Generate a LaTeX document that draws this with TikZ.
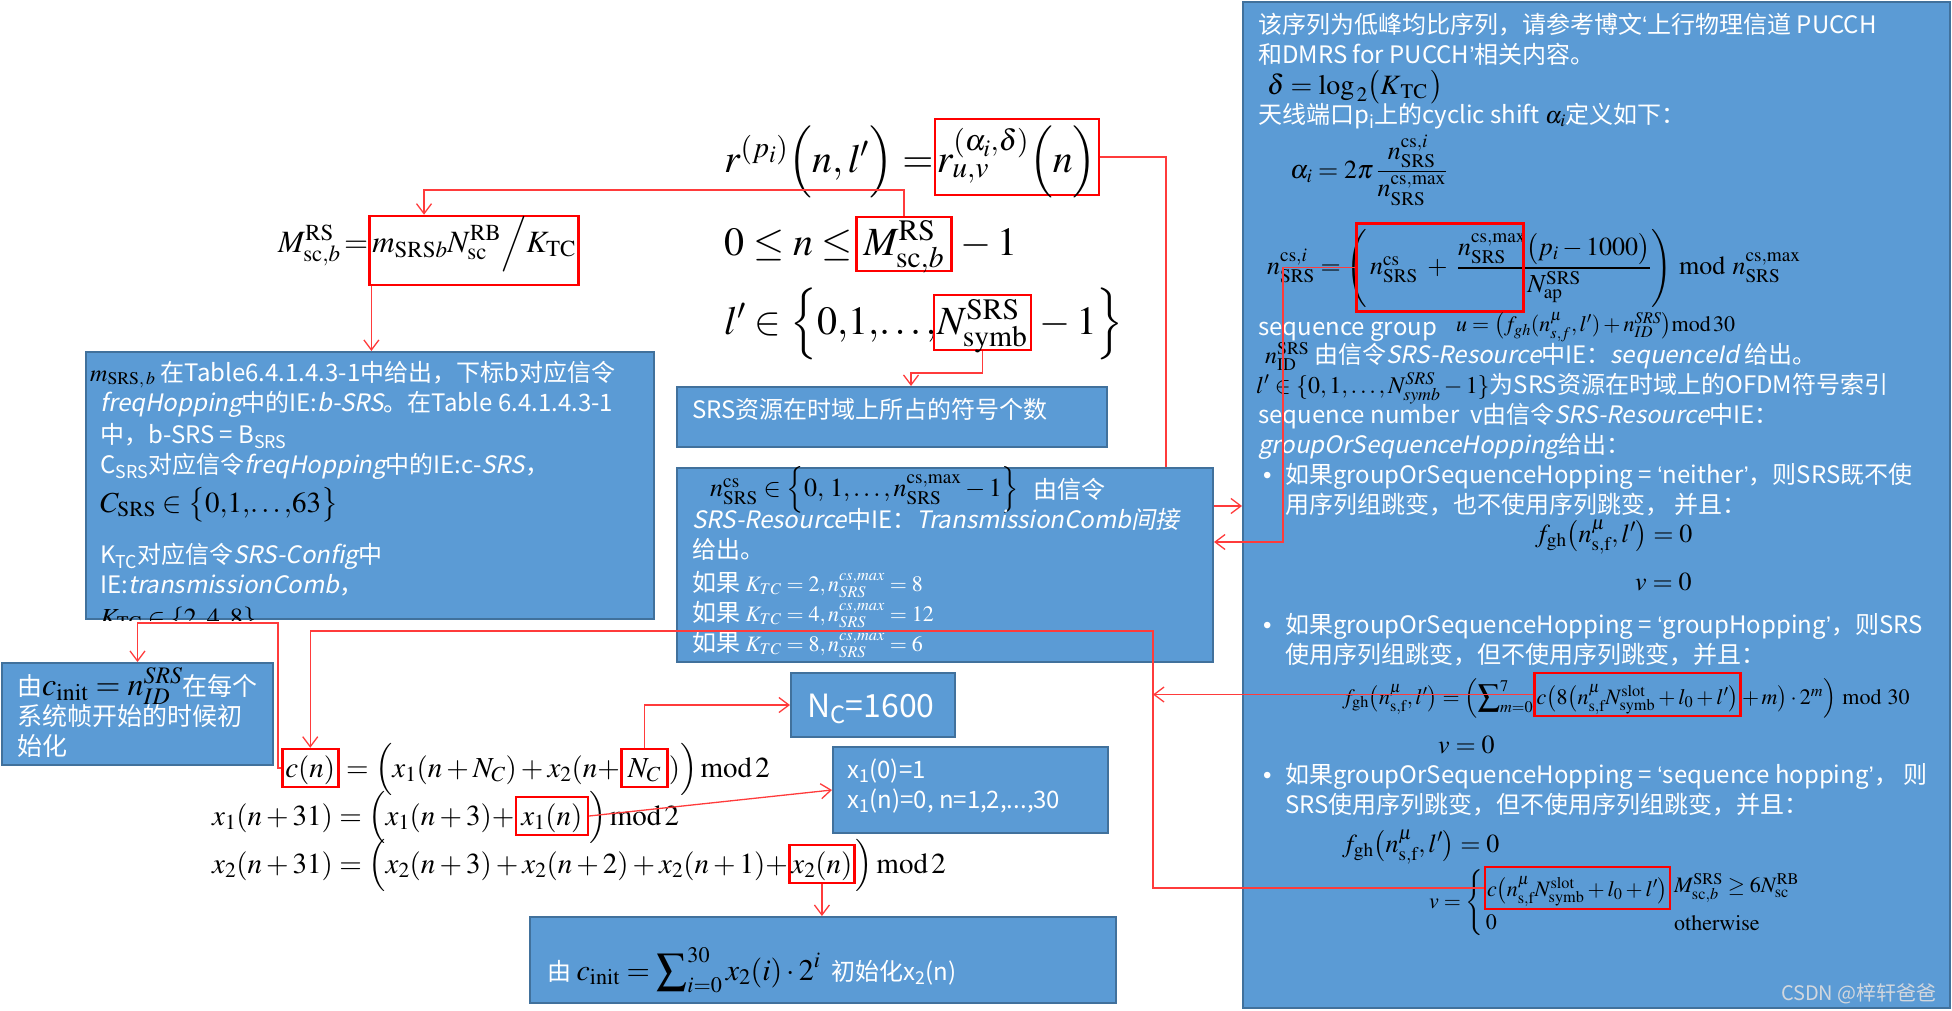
\documentclass[tikz,border=0pt]{standalone}
\usepackage{amsmath}
\usepackage{mathptmx}
\usepackage[no-math]{fontspec}
\setmainfont{Noto Sans CJK SC}[AutoFakeSlant=0.2]
\newfontfamily\latinfont{Liberation Sans}
\usetikzlibrary{arrows.meta,positioning}
\definecolor{boxfill}{HTML}{5B9BD5}
\definecolor{boxedge}{HTML}{41719C}
\definecolor{linkred}{HTML}{FF3B3B}
\definecolor{markgray}{HTML}{D2D7DE}

\newcommand{\blk}[1]{\textcolor{black}{$#1$}}
\newcommand{\oq}{{\latinfont ‘}}
\newcommand{\cq}{{\latinfont ’}}
\newcommand{\dotitem}{{\latinfont •}}

\begin{document}
\begin{tikzpicture}[x=1pt,y=-1pt,
  bluebox/.style={draw=boxedge,fill=boxfill,line width=2pt,anchor=north west,inner sep=0pt},
  txt/.style={anchor=base west,inner sep=0pt,text=white,font=\fontsize{24}{30}\selectfont},
  eq/.style={anchor=base west,inner sep=0pt},
  eqxl/.style={eq,font=\fontsize{40}{48}\selectfont},
  eqlg/.style={eq,font=\fontsize{31}{37}\selectfont},
  eqmd/.style={eq,font=\fontsize{29}{35}\selectfont},
  eqsm/.style={eq,font=\fontsize{26}{30}\selectfont},
  eqxs/.style={eq,font=\fontsize{22}{26}\selectfont},
  redbox/.style={draw=red,line width=2.5pt,inner sep=2pt},
  link/.style={draw=linkred,line width=1.3pt,-{Straight Barb[length=10pt,width=15pt]}}]
\useasboundingbox (0,0) rectangle (1952,1010);

% boxes
\node[bluebox,minimum width=707pt,minimum height=1006pt] (bigbox) at (1242,1) {};
\node[bluebox,minimum width=568pt,minimum height=267pt] (leftbox) at (85,351) {};
\node[bluebox,minimum width=430pt,minimum height=60pt] (srsbox) at (676,386) {};
\node[bluebox,minimum width=271pt,minimum height=102pt] (cibox) at (1,662) {};
\node[bluebox,minimum width=164pt,minimum height=64pt] (ncbox) at (790,672) {};
\node[bluebox,minimum width=275pt,minimum height=86pt] (x1box) at (832,746) {};
\node[bluebox,minimum width=586pt,minimum height=86pt] (botbox) at (529,916) {};

% left box
\node[txt] (lb1) at (90,381) {\blk{m_{\mathrm{SRS},\,b}} 在Table6.4.1.4.3-1中给出，下标b对应信令};
\node[txt] (lb2) at (100,411) {\textit{freqHopping}中的IE:\textit{b-SRS}。在Table 6.4.1.4.3-1};
\node[txt] (lb3) at (100,443) {中，b-SRS = B\textsubscript{SRS}};
\node[txt] (lb4) at (100,473) {C\textsubscript{SRS}对应信令\textit{freqHopping}中的IE:c-\textit{SRS}，};
\node[eqmd,anchor=west] (lb5) at (100,505) {$C_{\mathrm{SRS}}\in\bigl\{0,\!1,\!\ldots,\!63\bigr\}$};
\node[txt] (lb6) at (100,563) {K\textsubscript{TC}对应信令\textit{SRS-Config}中};
\node[txt] (lb7) at (100,593) {IE:\textit{transmissionComb}，};
\begin{scope}
  \clip (leftbox.north west) rectangle (leftbox.south east);
  \node[eqsm] (lb8) at (100,626) {$K_{\mathrm{TC}}\in\{2,4,8\}$};
\end{scope}

% big box
\node[txt] (b1) at (1258,33) {该序列为低峰均比序列，请参考博文\oq 上行物理信道 PUCCH};
\node[txt] (b2) at (1258,63) {和DMRS for PUCCH\cq 相关内容。};
\node[eq,anchor=west,font=\fontsize{28}{32}\selectfont] (b3) at (1267,87) {$\delta = \log_{\,2}\bigl(K_{\,\mathrm{TC}}\,\bigr)$};
\node[txt] (b4) at (1258,123) {天线端口p\textsubscript{i}上的cyclic shift \blk{\alpha_i}定义如下：};
\node[eqsm,anchor=west] (b5) at (1290,170) {$\alpha_i = 2\pi\,\dfrac{n_{\mathrm{SRS}}^{\mathrm{cs},i}}{n_{\mathrm{SRS}}^{\mathrm{cs,max}}}$};
\node[eqsm,anchor=west] (b6) at (1267,268) {$n_{\mathrm{SRS}}^{\mathrm{cs},i} = \left(\,n_{\mathrm{SRS}}^{\mathrm{cs}} \;+\; \dfrac{n_{\mathrm{SRS}}^{\mathrm{cs,max}}\bigl(p_i-1000\bigr)}{N_{\mathrm{ap}}^{\mathrm{SRS}}}\right)\bmod n_{\mathrm{SRS}}^{\mathrm{cs,max}}$};
\node[redbox,minimum width=167pt,minimum height=88pt,anchor=north west] (ncsred) at (1355,222) {};
\node[txt] (b7) at (1258,335) {sequence group};
\node[eqxs,anchor=west] (b7u) at (1456,327) {$u=\bigl(f_{gh}(n_{s,f}^{\mu},l')+n_{ID}^{SRS}\bigr)\mathrm{mod}\,30$};
\node[txt] (b8) at (1265,363) {\blk{n_{\mathrm{ID}}^{\mathrm{SRS}}} 由信令\textit{SRS-Resource}中IE：\textit{sequenceId} 给出。};
\node[txt] (b9) at (1256,393) {\blk{l'\in\{0,1,\ldots,N_{symb}^{SRS}-1\}}为SRS资源在时域上的OFDM符号索引};
\node[txt] (b10) at (1258,423) {sequence number\ \ v由信令\textit{SRS-Resource}中IE：};
\node[txt] (b11) at (1258,453) {\textit{groupOrSequenceHopping}给出：};
\node[txt] (d1) at (1263,483) {\dotitem};
\node[txt] (b12) at (1285,483) {如果groupOrSequenceHopping = \oq neither\cq ，则SRS既不使};
\node[txt] (b13) at (1285,513) {用序列组跳变，也不使用序列跳变， 并且：};
\node[eqsm,anchor=west] (b14) at (1535,537) {$f_{\mathrm{gh}}\bigl(n_{\mathrm{s,f}}^{\mu},l'\bigr)=0$};
\node[eqsm,anchor=west] (b15) at (1635,582) {$v=0$};
\node[txt] (d2) at (1263,633) {\dotitem};
\node[txt] (b16) at (1285,633) {如果groupOrSequenceHopping = \oq groupHopping\cq ，则SRS};
\node[txt] (b17) at (1285,663) {使用序列组跳变，但不使用序列跳变，并且：};
\node[eqxs] (b18) at (1342,704) {$f_{\mathrm{gh}}\bigl(n_{\mathrm{s,f}}^{\mu},l'\bigr)=\Bigl(\displaystyle\sum\nolimits_{m=0}^{7}$};
\node[eqxs,redbox,base right=0pt of b18,text height=29pt,text depth=10pt] (fred) {$c\bigl(8\bigl(n_{\mathrm{s,f}}^{\mu}N_{\mathrm{symb}}^{\mathrm{slot}}+l_0+l'\bigr)$};
\node[eqxs,base right=0pt of fred] (b18b) {$+\,m\bigr)\cdot 2^{m}\Bigr)\bmod 30$};
\node[eqsm,anchor=west] (b19) at (1438,745) {$v=0$};
\node[txt] (d3) at (1263,783) {\dotitem};
\node[txt] (b20) at (1285,783) {如果groupOrSequenceHopping = \oq sequence hopping\cq ， 则};
\node[txt] (b21) at (1285,813) {SRS使用序列跳变，但不使用序列组跳变，并且：};
\node[eqsm,anchor=west] (b22) at (1342,847) {$f_{\mathrm{gh}}\bigl(n_{\mathrm{s,f}}^{\mu},l'\bigr)=0$};
\node[eqxs,anchor=west] (b23) at (1429,903) {$v=\Bigg\{$};
\node[eqxs,redbox,anchor=west,text height=27pt,text depth=11pt] (vred) at ([yshift=15pt]b23.east) {$c\bigl(n_{\mathrm{s,f}}^{\mu}N_{\mathrm{symb}}^{\mathrm{slot}}+l_0+l'\bigr)$};
\node[eqxs,anchor=west] (b23b) at ([yshift=-19pt,xshift=2pt]b23.east) {$0$};
\node[eqxs,anchor=west] (b23c) at (1674,888) {$M_{\mathrm{sc},b}^{\mathrm{SRS}}\ge 6N_{\mathrm{sc}}^{\mathrm{RB}}$};
\node[eqxs,anchor=west] (b23d) at (1674,923) {$\mathrm{otherwise}$};
\node[anchor=base east,inner sep=0pt,text=markgray,font=\fontsize{20}{24}\selectfont] (wm) at (1937,1000) {CSDN @梓轩爸爸};

% small boxes
\node[txt] (srst) at (692,418) {SRS资源在时域上所占的符号个数};
\node[txt,font=\fontsize{25}{30}\selectfont] (ci1) at (17,695) {由{\fontsize{32}{36}\selectfont\blk{c_{\mathrm{init}}=n_{ID}^{SRS}}}在每个};
\node[txt,font=\fontsize{25}{30}\selectfont] (ci2) at (17,725) {系统帧开始的时候初};
\node[txt,font=\fontsize{25}{30}\selectfont] (ci3) at (17,755) {始化};
\node[txt,font=\fontsize{32}{36}\selectfont] (nct) at (807,717) {N\textsubscript{C}=1600};
\node[txt] (x1t1) at (847,778) {x\textsubscript{1}(0)=1};
\node[txt] (x1t2) at (847,808) {x\textsubscript{1}(n)=0, n=1,2,...,30};
\node[txt] (bt1) at (547,980) {由 {\fontsize{30}{36}\selectfont\blk{c_{\mathrm{init}}=\displaystyle\sum\nolimits_{i=0}^{30}x_2(i)\cdot 2^{i}}}\ \ 初始化x\textsubscript{2}(n)};

% equations
\node[eqxl] (req) at (724,172) {$r^{(p_i)}\Bigl(n,l'\Bigr)=$};
\node[eqxl,redbox,base right=0pt of req,text height=51pt,text depth=21pt,minimum width=159pt] (rred) {$r_{u,v}^{(\alpha_i,\delta)}\Bigl(n\Bigr)$};
\node[eqxl] (neq) at (724,255) {$0\le n\le$};
\node[eqxl,redbox,base right=2pt of neq,text height=36pt,text depth=14pt,minimum width=95pt] (mred) {$M_{\mathrm{sc},b}^{\mathrm{RS}}$};
\node[eqxl,base right=2pt of mred] (neq2) {${}-1$};
\node[eqxl] (leq) at (724,334) {$l'\in\Bigl\{0,\!1,\!\ldots,\!$};
\node[eqxl,redbox,base right=0pt of leq,text height=37pt,text depth=14pt,minimum width=97pt] (nred) {$N_{\mathrm{symb}}^{\mathrm{SRS}}$};
\node[eqxl,base right=2pt of nred] (leq2) {${}-1\Bigr\}$};
\node[eqlg] (meq) at (278,252) {$M_{\mathrm{sc},b}^{\mathrm{RS}}\!=$};
\node[eqlg,redbox,base right=0pt of meq,text height=34pt,text depth=31pt,minimum width=209pt] (meqred) {$m_{\mathrm{SRS}b}N_{\mathrm{sc}}^{\mathrm{RB}}\Big/K_{\mathrm{TC}}$};
\node[eqmd,redbox,text height=26pt,text depth=8pt,minimum width=56pt] (cred) at (281,777) {$c(n)$};
\node[eqmd,base right=0pt of cred] (ceq) {${}=\Bigl(x_1(n+N_C)+x_2(n+$};
\node[eqmd,redbox,base right=0pt of ceq,text height=26pt,text depth=8pt,minimum width=46pt] (ncred) {$N_C$};
\node[eqmd,base right=0pt of ncred] (ceq2) {$)\Bigr)\,\mathrm{mod}\,2$};
\node[eqmd] (x1eq) at (212,825) {$x_1(n+31)=\Bigl(x_1(n+3)+$};
\node[eqmd,redbox,base right=0pt of x1eq,text height=26pt,text depth=8pt,minimum width=72pt] (x1red) {$x_1(n)$};
\node[eqmd,base right=0pt of x1red] (x1eq2) {$\Bigr)\,\mathrm{mod}\,2$};
\node[eqmd] (x2eq) at (212,873) {$x_2(n+31)=\Bigl(x_2(n+3)+x_2(n+2)+x_2(n+1)+$};
\node[eqmd,redbox,base right=0pt of x2eq,text height=26pt,text depth=8pt,minimum width=65pt] (x2red) {$x_2(n)$};
\node[eqmd,base right=0pt of x2red] (x2eq2) {$\Bigr)\,\mathrm{mod}\,2$};

% r goes to the big box, under the middle box
\coordinate (rturn) at (1166,506);
\draw[link] (rred.east) -| (rturn) -- (rturn -| bigbox.west);

% middle box
\node[bluebox,minimum width=536pt,minimum height=194pt] (midbox) at (676,467) {};
\node[eqsm,anchor=west] (m1) at (710,490) {$n_{\mathrm{SRS}}^{\mathrm{cs}}\in\Bigl\{0,\,1,\ldots,n_{\mathrm{SRS}}^{\mathrm{cs,max}}-1\Bigr\}$};
\node[txt] (m1t) at (1033,498) {由信令};
\node[txt] (m2) at (692,528) {\textit{SRS-Resource}中IE：\textit{TransmissionComb间接}};
\node[txt] (m3) at (692,558) {给出。};
\node[txt] (m4) at (692,591) {如果 {\fontsize{22}{26}\selectfont$K_{TC}=2, n_{SRS}^{cs,max}=8$}};
\node[txt] (m5) at (692,621) {如果 {\fontsize{22}{26}\selectfont$K_{TC}=4, n_{SRS}^{cs,max}=12$}};
\node[txt] (m6) at (692,651) {如果 {\fontsize{22}{26}\selectfont$K_{TC}=8, n_{SRS}^{cs,max}=6$}};

% connectors
\coordinate (srsturn) at (911,373);
\draw[link] (nred.south) |- (srsturn) -- (srsturn |- srsbox.north);
\coordinate (mturn) at (424,190);
\draw[link] (mred.north) |- (mturn) -- (mturn |- meqred.north);
\draw[link] ([xshift=3pt]meqred.south west) -- ([xshift=3pt]meqred.south west |- leftbox.north);
\coordinate (cturn) at (278,623);
\draw[link] (cred.west) -| (cturn) -- (cturn -| cibox.north) -- (cibox.north);
\coordinate (vturn) at (1153,631);
\draw[link] (vred.west) -| (vturn) -| (cred.north);
\draw[link] (fred.west) -- (fred.west -| vturn);
\coordinate (nturn) at (1283,542);
\draw[link] (ncsred.west) -| (nturn) -- (nturn -| midbox.east);
\draw[link] (ncred.north) |- (ncbox.west);
\draw[link] (x1red.east) -- (x1box.west);
\draw[link] (x2red.south) -- (x2red.south |- botbox.north);
\end{tikzpicture}
\end{document}
